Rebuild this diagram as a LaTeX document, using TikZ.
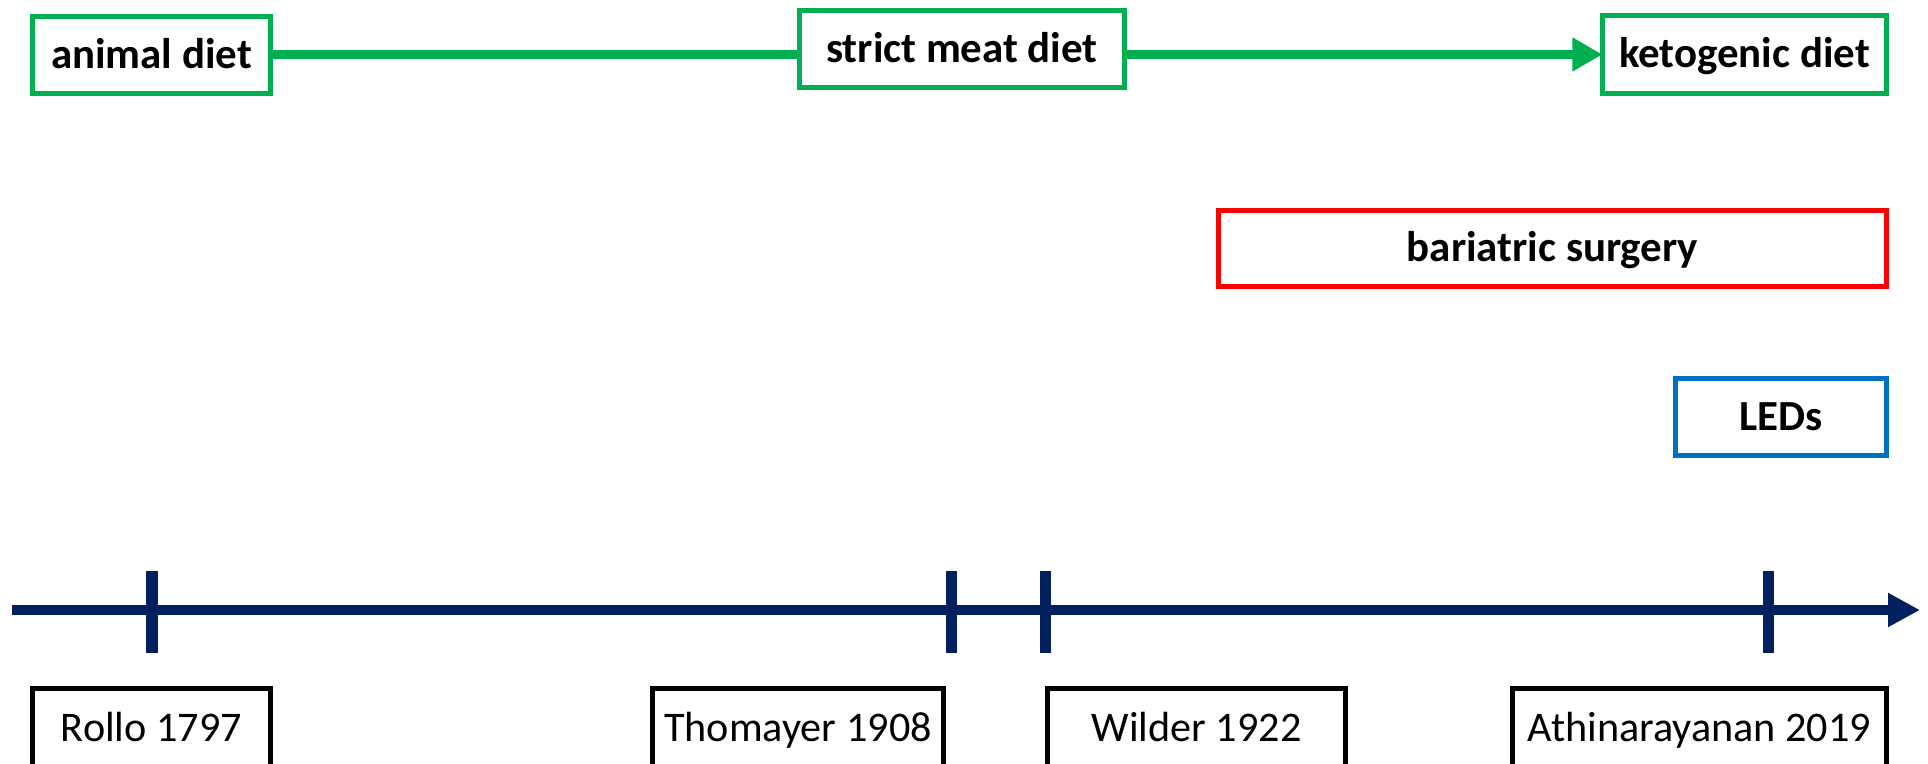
\documentclass[tikz,border=0pt]{standalone}
\usepackage{fontspec}
\setmainfont{Carlito}
\usetikzlibrary{arrows.meta}
\definecolor{dietgreen}{HTML}{00B050}
\definecolor{surgred}{HTML}{FF0000}
\definecolor{ledblue}{HTML}{0070C0}
\definecolor{axisnavy}{HTML}{002060}
\begin{document}
\begin{tikzpicture}[x=0.01cm,y=-0.01cm,
	topbox/.style={draw,line width=0.05cm,inner sep=0,outer sep=0,text height=0.9em,text depth=0.15em,font=\bfseries\fontsize{12.2}{14}\selectfont},
	namebox/.style={draw=black,line width=0.05cm,inner sep=0,outer sep=0,minimum height=0.8cm,text height=0.9em,text depth=0.15em,font=\fontsize{12}{14}\selectfont},
	link/.style={dietgreen,line width=0.09cm},
	axis/.style={axisnavy,line width=0.1cm},
	tickmark/.style={axisnavy,line width=0.11cm}]
	\clip (0,0) rectangle (1928,764);
	\useasboundingbox (0,0) rectangle (1928,764);
	% diets
	\node[topbox,draw=dietgreen,minimum width=2.38cm,minimum height=0.77cm] (animal) at (151.5,55) {animal diet};
	\node[topbox,draw=dietgreen,minimum width=3.25cm,minimum height=0.77cm] (strict) at (962,49) {strict meat diet};
	\node[topbox,draw=dietgreen,minimum width=2.84cm,minimum height=0.78cm] (keto) at (1744.5,54.5) {ketogenic diet};
	\draw[link] (animal.east) -- (animal.east -| strict.west);
	\draw[link,-{Triangle[length=0.3cm,width=0.32cm]}] (strict.east |- keto.west) -- (keto.west);
	% other treatments
	\node[topbox,draw=surgred,minimum width=6.68cm,minimum height=0.76cm] (surgery) at (1552.5,248.5) {bariatric surgery};
	\node[topbox,draw=ledblue,minimum width=2.11cm,minimum height=0.77cm] (leds) at (1781,417) {LEDs};
	% timeline
	\coordinate (tstart) at (12,610);
	\coordinate (tend) at (1920,610);
	\draw[axis,-{Triangle[length=0.32cm,width=0.32cm]}] (tstart) -- (tend);
	\foreach \x in {152,951,1045,1768}
		\draw[tickmark] (\x,571) -- (\x,653);
	% authors
	\node[namebox,minimum width=2.38cm] (rollo) at (151.5,728.5) {Rollo 1797};
	\node[namebox,minimum width=2.91cm] (thomayer) at (798,728.5) {Thomayer 1908};
	\node[namebox,minimum width=2.98cm] (wilder) at (1196.5,728.5) {Wilder 1922};
	\node[namebox,minimum width=3.74cm] (athin) at (1699.5,728.5) {Athinarayanan 2019};
\end{tikzpicture}
\end{document}
